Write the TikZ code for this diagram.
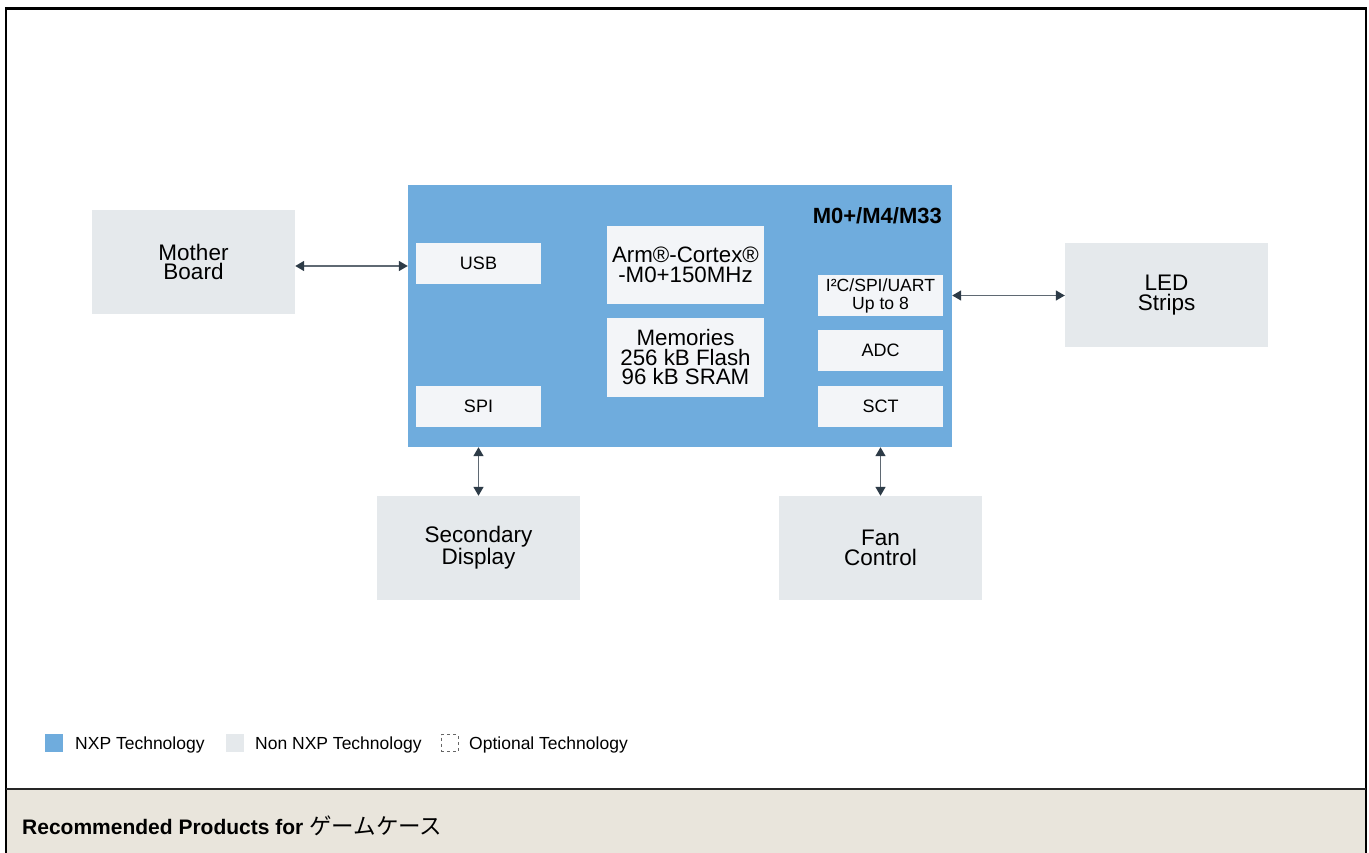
\documentclass[tikz,border=0pt]{standalone}
\usepackage{fontspec}
\setmainfont{Liberation Sans}
\newfontfamily\jpfont{Noto Sans CJK JP}
\usetikzlibrary{arrows.meta}

\definecolor{nxpblue}{RGB}{111,172,221}
\definecolor{nonnxp}{RGB}{229,233,236}
\definecolor{portfill}{RGB}{243,245,248}
\definecolor{footbg}{RGB}{233,229,220}
\definecolor{linkgray}{RGB}{95,105,115}
\definecolor{tipdark}{RGB}{45,59,71}

\tikzset{
  chip/.style={fill=nxpblue, minimum width=544pt, minimum height=262pt, inner sep=0pt},
  ext/.style={fill=nonnxp, minimum width=203pt, minimum height=104pt, inner sep=0pt,
    align=center, font=\fontsize{22.5}{19.5}\selectfont},
  port/.style={fill=portfill, minimum width=125pt, minimum height=41pt, inner sep=0pt,
    align=center, font=\fontsize{18}{18}\selectfont},
  core/.style={fill=portfill, minimum width=157pt, minimum height=78pt, inner sep=0pt,
    align=center, font=\fontsize{22.3}{19.5}\selectfont},
  link/.style={draw=linkgray, line width=1.5pt,
    {Triangle[length=9pt,width=10pt,color=tipdark]}-{Triangle[length=9pt,width=10pt,color=tipdark]}},
  legtext/.style={anchor=base west, inner sep=0pt, font=\fontsize{17.5}{18}\selectfont},
  legbox/.style={minimum size=18pt, inner sep=0pt},
}

\begin{document}
\begin{tikzpicture}[x=1pt, y=-1pt]
\useasboundingbox (0,0) rectangle (1369,853);

% frame and footer
\fill[footbg] (7,790) rectangle (1365,853);
\draw[line width=2.5pt] (5,8.5) -- (1366.5,8.5);
\draw[line width=2.5pt] (6,8) -- (6,853);
\draw[line width=2.5pt] (1366,8) -- (1366,853);
\draw[line width=2pt, black!85] (6,789) -- (1366,789);

% MCU
\node[chip] (chip) at (680,316) {};
\node[anchor=base east, inner sep=0pt, font=\fontsize{22}{22}\selectfont\bfseries] (title) at (942,224) {M0+/M4/M33};
\node[port] (usb) at (478.5,263.5) {USB};
\node[port] (spi) at (478.5,406.5) {SPI};
\node[core] (arm) at (685.5,265) {Arm®-Cortex®\\-M0+150MHz};
\node[core, minimum height=79pt] (mem) at (685.5,357.5) {Memories\\256 kB Flash\\96 kB SRAM};
\node[port, font=\fontsize{17.6}{18}\selectfont] (i2c) at (880.5,295.5) {I²C/SPI/UART\\Up to 8};
\node[port] (adc) at (880.5,350.5) {ADC};
\node[port] (sct) at (880.5,406.5) {SCT};

% outside blocks
\node[ext] (mb) at (193.5,262) {Mother\\Board};
\node[ext] (led) at (1166.5,295) {LED\\Strips};
\node[ext] (disp) at (478.5,548) {Secondary\\Display};
\node[ext] (fan) at (880.5,548) {Fan\\Control};

% links
\coordinate (mbport) at ([yshift=-4pt]mb.east);
\draw[link] (mbport) -- (chip.west |- mbport);
\draw[link] (chip.east |- i2c) -- (led.west |- i2c);
\draw[link] (spi |- chip.south) -- (disp.north);
\draw[link] (fan.north |- chip.south) -- (fan.north);

% legend
\node[legbox, fill=nxpblue] (lgnxp) at (54,743) {};
\node[legtext] (lgnxptext) at (75,749) {NXP Technology};
\node[legbox, fill=nonnxp] (lgnon) at (235,743) {};
\node[legtext] (lgnontext) at (255,749) {Non NXP Technology};
\node[legbox, minimum size=17pt, draw=black!60, dashed, line width=0.8pt] (lgopt) at (449.5,743) {};
\node[legtext] (lgopttext) at (469,749) {Optional Technology};

% footer text
\node[anchor=base west, inner sep=0pt, font=\fontsize{21}{22}\selectfont] (foot) at (22,834)
  {\textbf{Recommended Products for} {\jpfont\fontsize{22.5}{22}\selectfont ゲームケース}};
\end{tikzpicture}
\end{document}
